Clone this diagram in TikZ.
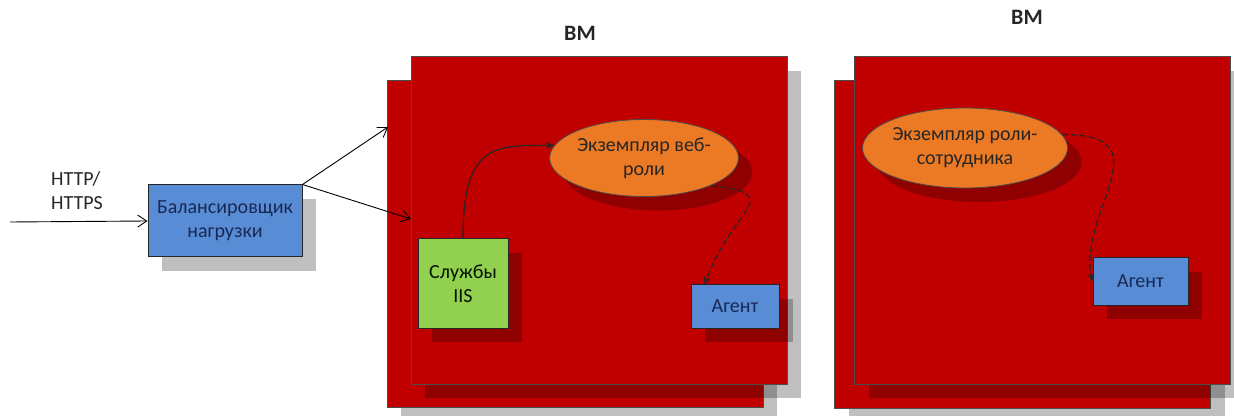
\documentclass[tikz,border=0pt]{standalone}
\usepackage{fontspec}
\setmainfont{Carlito}
\usepackage{tikz}
\usetikzlibrary{shapes.geometric, arrows.meta, shadows}
\definecolor{vmred}{RGB}{192,0,0}
\definecolor{lbblue}{RGB}{88,140,212}
\definecolor{roleorange}{RGB}{236,122,36}
\definecolor{iisgreen}{RGB}{146,208,80}
\definecolor{navytext}{RGB}{25,40,85}

\begin{document}
\begin{tikzpicture}[
    x=0.5pt, y=-0.5pt,
    shade/.style={drop shadow={shadow xshift=7pt, shadow yshift=-7pt,
                  fill=black, opacity=0.25}},
    vm/.style={rectangle, fill=vmred, draw=black!70, line width=0.5pt,
               minimum width=188pt, minimum height=163.5pt, shade},
    box/.style={rectangle, draw=black!85, line width=0.5pt, align=center,
                inner sep=0pt, font=\fontsize{10}{12}\selectfont, shade},
    role/.style={ellipse, fill=roleorange, draw=black!70, line width=0.4pt,
                 inner sep=0pt, align=center, text=black!85,
                 font=\fontsize{10}{12}\selectfont, shade},
    title/.style={font=\fontsize{11}{13}\selectfont\bfseries, text=black!85},
    arr/.style={-{Straight Barb[length=4.5pt, width=6pt]}, line width=0.45pt},
    link/.style={-{Stealth[length=4pt, width=3.5pt]}, line width=0.6pt, draw=black!85},
    dlink/.style={link, dash pattern=on 3pt off 1.5pt},
]
\useasboundingbox (0,0) rectangle (1234,416);

% Left — incoming traffic and balancer
\node[font=\fontsize{10}{12}\selectfont, align=left, anchor=west, text=black!85]
      (http) at (44,191) {HTTP/\\HTTPS};
\node[box, fill=lbblue, text=navytext, minimum width=77pt, minimum height=36pt]
      (lb) at (225,221) {Балансировщик\\нагрузки};
\coordinate (in) at (10,222);
\draw[arr] (in) -- (lb.west);

% VM 1 — web role
\node[vm] (vmAback) at (575,244) {};
\node[vm] (vmA) at (599,220.5) {};
\node[title] (titleA) at (580,33) {ВМ};
\node[box, fill=iisgreen, text=black!80!green!40!black, minimum width=45pt,
      minimum height=44.5pt] (iis) at (463,283.5) {Службы\\IIS};
\node[role, minimum width=79pt, minimum height=38.5pt]
      (web) at (644,158) {Экземпляр веб-\\роли};
\node[box, fill=lbblue, text=navytext, minimum width=44pt, minimum height=21.5pt]
      (agA) at (735,306.5) {Агент};

% VM 2 — worker role
\node[vm] (vmBback) at (1022.5,244.5) {};
\node[vm] (vmB) at (1042.5,220.5) {};
\node[title] (titleB) at (1027,17) {ВМ};
\node[role, minimum width=82.5pt, minimum height=40pt]
      (worker) at (965,148) {Экземпляр роли-\\сотрудника};
\node[box, fill=lbblue, text=navytext, minimum width=47.5pt, minimum height=23.5pt]
      (agB) at (1140.5,281.5) {Агент};

% Arrows balancer -> VM
\coordinate (hitA) at (388,127);
\coordinate (hitB) at (411,219);
\draw[arr] (lb.north east) -- (hitA);
\draw[arr] (lb.north east) -- (hitB);

% Arrows inside VMs
\draw[link] (iis.north) .. controls +(0,-95) and +(-60,0) .. (web.172);
\draw[dlink] (web.-22) .. controls +(75,10) and +(30,-80) .. ([xshift=7pt]agA.north west);
\draw[dlink] (worker.8) .. controls +(105,0) and +(-15,-70) .. (agB.west);

\end{tikzpicture}
\end{document}
